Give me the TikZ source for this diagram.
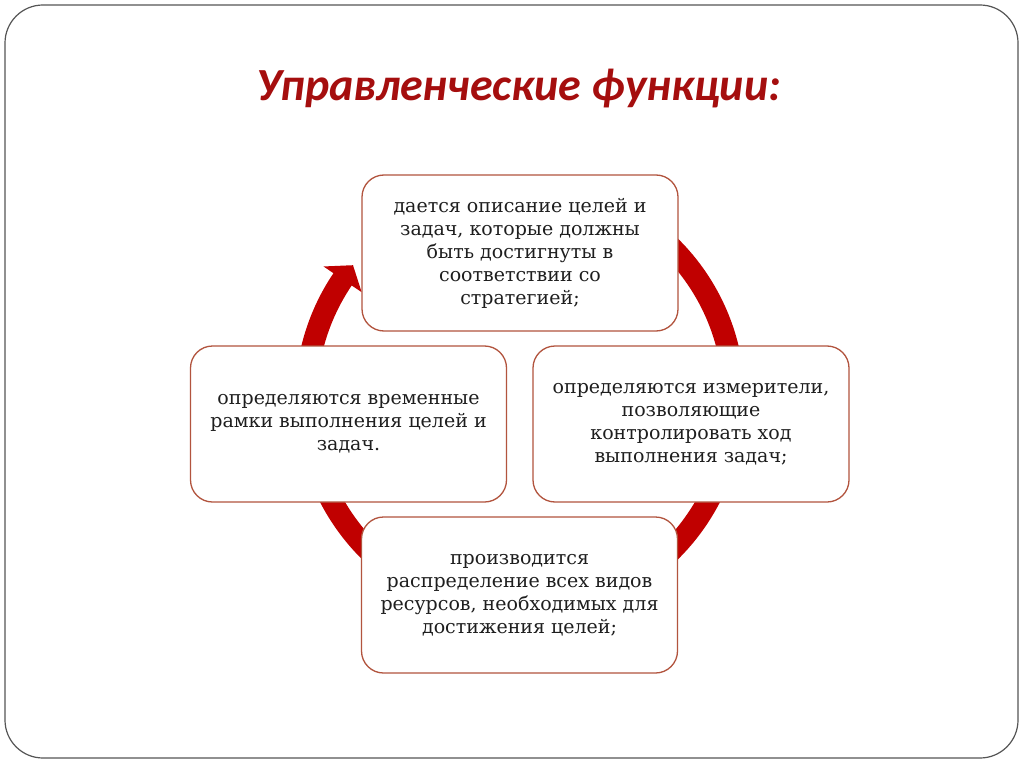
\documentclass[tikz,border=0pt]{standalone}
\usepackage{fontspec}
\usetikzlibrary{calc}
\setmainfont{DejaVu Serif}
\newfontfamily\titlefont{Carlito}
\definecolor{ringred}{RGB}{192,0,0}
\definecolor{titlered}{RGB}{165,14,14}
\definecolor{boxline}{RGB}{178,84,62}
\definecolor{frameline}{RGB}{85,85,85}
\definecolor{bodytext}{RGB}{30,30,30}
\begin{document}
\begin{tikzpicture}[x=1pt,y=-1pt,
  fnbox/.style={draw=boxline, line width=1.3pt, fill=white, rounded corners=22pt,
    minimum width=316pt, minimum height=156pt, align=center, text=bodytext,
    font=\fontsize{19}{23}\selectfont, inner sep=0pt},
  framebox/.style={draw=frameline, line width=1.2pt, rounded corners=38pt},
  ringband/.style={fill=ringred, draw=none}]
\useasboundingbox (0,0) rectangle (1024,767);
\fill[white] (0,0) rectangle (1024,767);
\draw[framebox] (5,5) rectangle (1018,758);
% ring centre
\coordinate (c) at (520,399);
\fill[ringband] ($(c)+(-60:225)$) arc[start angle=-60, end angle=214, radius=225]
  -- ($(c)+(214:237)$) -- ($(c)+(218.7:214)$) -- ($(c)+(214:191)$)
  -- ($(c)+(214:203)$) arc[start angle=214, end angle=-60, radius=203] -- cycle;
\node[fnbox] (top) at (520,253) {дается описание целей и\\задач, которые должны\\быть достигнуты в\\соответствии со\\стратегией;};
\node[fnbox] (left) at (348.5,424) {определяются временные\\рамки выполнения целей и\\задач.};
\node[fnbox] (right) at (691,424) {определяются измерители,\\позволяющие\\контролировать ход\\выполнения задач;};
\node[fnbox] (bottom) at (519.5,595) {производится\\распределение всех видов\\ресурсов, необходимых для\\достижения целей;};
\node[text=titlered, font=\titlefont\bfseries\itshape\fontsize{46}{52}\selectfont, inner sep=0pt] (title) at (519,89) {Управленческие функции:};
\end{tikzpicture}
\end{document}
